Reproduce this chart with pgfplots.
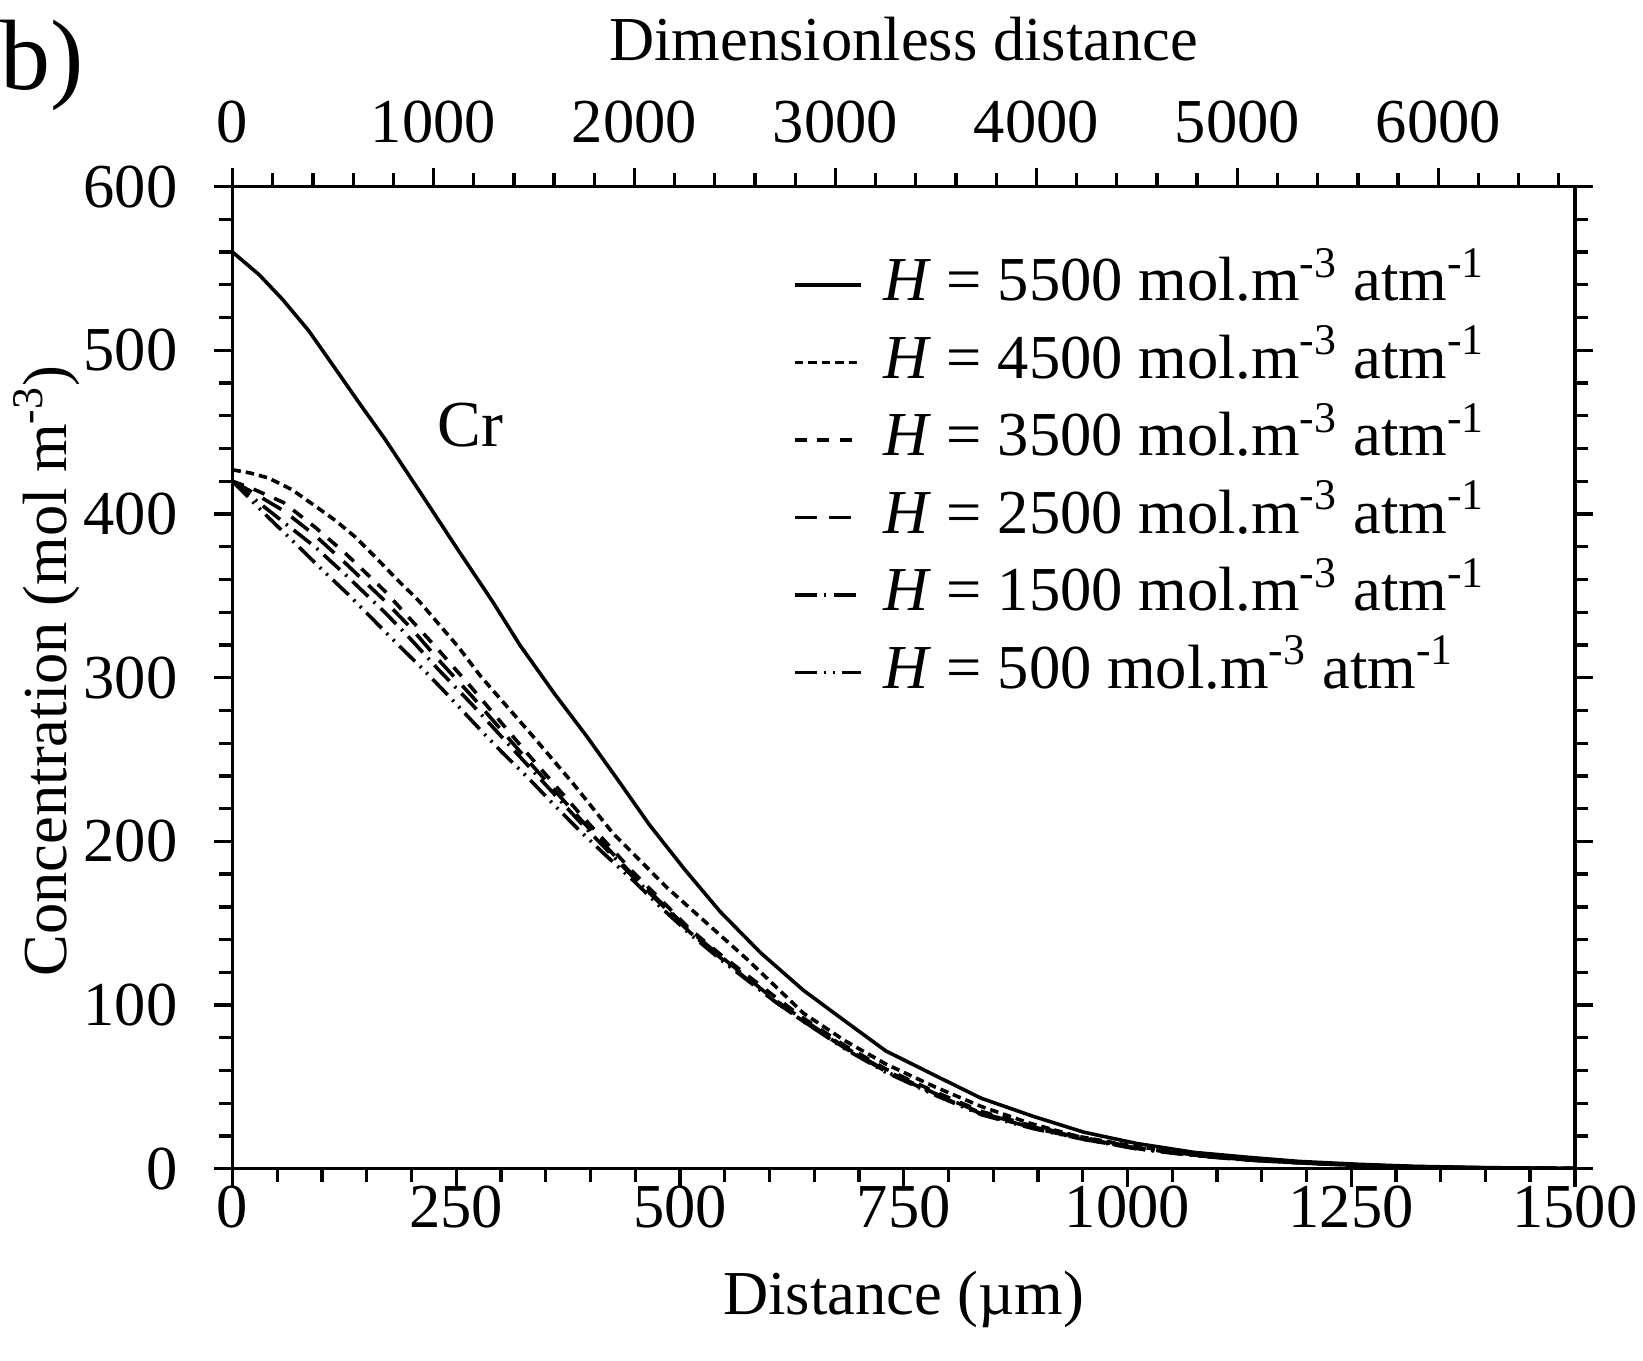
\documentclass[border=0pt]{standalone}
\usepackage{fontspec}
\setmainfont{Liberation Serif}
\usepackage{pgfplots}
\pgfplotsset{compat=1.18}

\begin{document}
\begin{tikzpicture}[font=\fontsize{20}{24}\selectfont]
\begin{axis}[name=main, scale only axis, width=429.4pt, height=314.2pt,
  xmin=0, xmax=1500, ymin=0, ymax=600,
  xtick={0,250,...,1500}, minor xtick={50,100,...,1450},
  ytick={0,100,...,600}, minor ytick={20,40,...,580},
  xtick pos=left, ytick pos=both, tick align=outside,
  major tick length=5.8pt, minor tick length=4.2pt,
  every tick/.style={black, line width=1.05pt},
  axis line style={line width=1.05pt},
  /pgf/number format/assume math mode=true,
  /pgf/number format/set thousands separator={},
  xticklabel style={yshift=4pt},
  yticklabel style={xshift=-8.3pt},
  xlabel={Distance (µm)},
  ylabel={Concentration (mol m\textsuperscript{-3})},
  every axis x label/.style={at={(axis description cs:0.5,-0.133)}, anchor=center},
  every axis y label/.style={at={(axis description cs:-0.1383,0.507)}, rotate=90, anchor=center},
  legend image code/.code={\draw[#1] (0pt,0pt) -- (21pt,0pt);},
  legend cell align=left,
  legend style={draw=none, fill=none, at={(axis description cs:0.4176,0.9316)}, anchor=north west,
    inner sep=0pt, outer sep=0pt, row sep=4.8pt, column sep=6.7pt,
    nodes={inner sep=0pt, text height=15pt, text depth=5pt, anchor=west}},
  every axis plot/.append style={line width=1.15pt, black, no markers},
]
\addplot[solid] coordinates {(0,560) (30,546) (56,531) (85,512) (112,491) (140,469) (170,446) (210,413) (252,378) (290,347) (321,320) (360,290) (396,264) (430,238) (466,210) (505,183) (545,157) (590,132) (638,109) (685,90) (730,72) (785,57) (837,43) (895,32) (951,22.4) (1010,15.5) (1075,10) (1135,7) (1192,4.5) (1260,2.7) (1321,1.5) (1400,0.7) (1500,0.2)};
\addlegendentry{\textit{H} = 5500 mol.m\textsuperscript{-3} atm\textsuperscript{-1}}
\addplot[dash pattern=on 2.7pt off 1.6pt] coordinates {(0,427) (20,425) (40,422) (66,415) (92,405) (115,396) (137,386) (159,374) (182,361) (208,347) (230,333) (252,319) (277,301) (336,264) (381,235) (425,205) (485,172) (530,150) (575,128) (619,105) (638,95) (685,78) (730,64) (785,50) (837,38) (890,28) (943,20) (1010,13.5) (1075,9) (1135,6) (1192,4) (1260,2.4) (1321,1.3) (1400,0.6) (1500,0.2)};
\addlegendentry{\textit{H} = 4500 mol.m\textsuperscript{-3} atm\textsuperscript{-1}}
\addplot[dash pattern=on 3.8pt off 3.4pt] coordinates {(0,420) (20,416) (57,407) (92,392) (126,376) (170,353) (200,335) (230,317) (267,294) (329,254) (388,217) (448,181) (512,146) (545,131) (604,106) (638,92) (685,75) (730,61) (785,47) (837,35) (895,26) (951,19) (1010,13) (1075,8.5) (1135,5.7) (1192,3.8) (1260,2.2) (1321,1.2) (1400,0.6) (1500,0.2)};
\addlegendentry{\textit{H} = 3500 mol.m\textsuperscript{-3} atm\textsuperscript{-1}}
\addplot[dash pattern=on 7pt off 4pt] coordinates {(0,420) (20,414) (57,402) (92,387) (126,370) (170,347) (200,330) (230,311) (267,289) (329,250) (388,214) (448,179) (512,145) (545,130) (604,104) (638,91) (685,74) (730,60) (785,46) (837,34) (895,25.5) (951,18.5) (1010,12.7) (1075,8.3) (1135,5.5) (1192,3.7) (1260,2.1) (1321,1.1) (1400,0.5) (1500,0.2)};
\addlegendentry{\textit{H} = 2500 mol.m\textsuperscript{-3} atm\textsuperscript{-1}}
\addplot[dash pattern=on 7pt off 2.4pt on 0.7pt off 2.4pt] coordinates {(0,420) (20,411) (57,395) (92,380) (126,363) (170,340) (200,323) (230,305) (267,284) (329,247) (388,212) (448,178) (512,144) (545,129) (604,103) (638,90) (685,73.5) (730,59.5) (785,45.5) (837,33.5) (895,25) (951,18) (1010,12.4) (1075,8.2) (1135,5.4) (1192,3.6) (1260,2) (1321,1.1) (1400,0.5) (1500,0.2)};
\addlegendentry{\textit{H} = 1500 mol.m\textsuperscript{-3} atm\textsuperscript{-1}}
\addplot[dash pattern=on 7pt off 2.2pt on 0.7pt off 2.2pt on 0.7pt off 2.2pt] coordinates {(0,420) (36,400) (72,381) (100,366) (129,351) (158,335) (187,319) (215,304) (243,288) (272,271) (301,254.5) (330,239) (358,223) (387,207) (416,192) (448,176) (480,159) (512,143) (545,128) (604,103) (638,90) (685,73) (730,59) (785,45) (837,33) (895,24.5) (951,18) (1010,12.2) (1075,8) (1135,5.3) (1192,3.6) (1260,2) (1321,1) (1400,0.5) (1500,0.2)};
\addlegendentry{\textit{H} = 500 mol.m\textsuperscript{-3} atm\textsuperscript{-1}}
\node[font=\fontsize{21}{24}\selectfont] at (axis cs:266,454.5) {Cr};
\end{axis}
\begin{axis}[scale only axis, width=429.4pt, height=314.2pt,
  xmin=0, xmax=6680, ymin=0, ymax=1,
  axis x line*=top, axis y line=none,
  xtick={0,1000,...,6000}, minor xtick={200,400,...,6600},
  tick align=outside,
  major tick length=5.8pt, minor tick length=4.2pt,
  every tick/.style={black, line width=1.05pt},
  axis line style={line width=1.05pt, -},
  /pgf/number format/assume math mode=true,
  /pgf/number format/set thousands separator={},
  xticklabel style={yshift=4.7pt},
  xlabel={Dimensionless distance},
  every axis x label/.style={at={(axis description cs:0.5,1.1505)}, anchor=center},
]
\end{axis}
\node[anchor=north west, font=\fontsize{32}{36}\selectfont, inner sep=0pt] at ([xshift=-74.4pt,yshift=53.6pt]main.north west) {b)};
\pgfresetboundingbox
\useasboundingbox ([xshift=-74.4pt,yshift=-61.3pt]main.south west) rectangle ([xshift=21.8pt,yshift=59.7pt]main.north east);
\end{tikzpicture}
\end{document}
